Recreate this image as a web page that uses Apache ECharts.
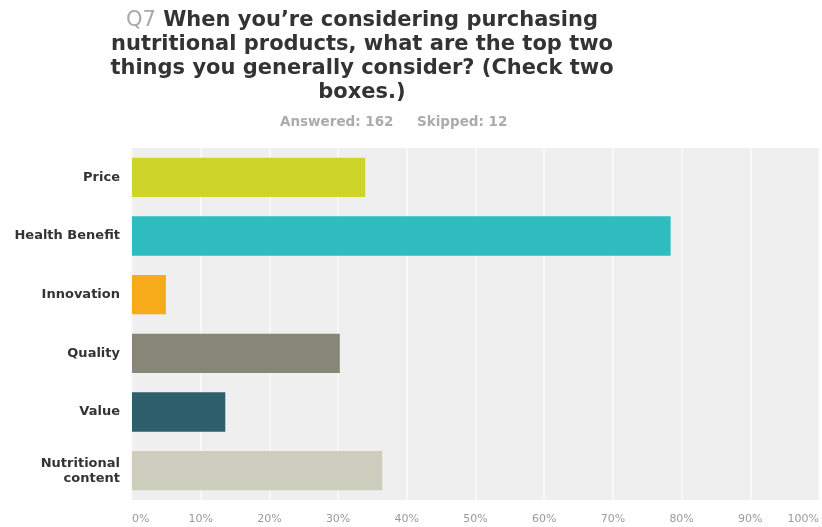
<!DOCTYPE html>
<html>
<head>
<meta charset="utf-8">
<script src="https://cdn.jsdelivr.net/npm/echarts@6/dist/echarts.min.js"></script>
<style>
  html, body { margin: 0; padding: 0; background: #ffffff; }
  #chart { width: 822px; height: 527px; }
</style>
</head>
<body>
<div id="chart"></div>
<script>
// Survey question results: share of respondents choosing each factor (percent)
const categories = ['Price', 'Health Benefit', 'Innovation', 'Quality', 'Value', 'Nutritional\ncontent'];
const values = [33.95, 78.40, 4.94, 30.25, 13.58, 36.42];
const barColors = ['#cfd42a', '#2fbcbe', '#f8ab1a', '#878778', '#2d5e6b', '#cccdbc'];
const tickValues = [0, 10, 20, 30, 40, 50, 60, 70, 80, 90, 100];

const titleLines = [
  '{q|Q7} When you\u2019re considering purchasing',
  'nutritional products, what are the top two',
  'things you generally consider? (Check two',
  'boxes.)'
];
const answered = 162;
const skipped = 12;

const FONT = 'DejaVu Sans, Verdana, sans-serif';

const chart = echarts.init(document.getElementById('chart'), null, { renderer: 'canvas' });

chart.setOption({
  animation: false,
  backgroundColor: '#ffffff',
  title: {
    text: titleLines.join('\n'),
    left: 357,
    top: 4,
    textAlign: 'center',
    textStyle: {
      fontFamily: FONT,
      fontSize: 21,
      fontWeight: 'bold',
      color: '#333333',
      lineHeight: 24,
      rich: {
        q: { fontFamily: FONT, fontSize: 21, fontWeight: 'normal', color: '#a9a9a9', lineHeight: 24 }
      }
    }
  },
  graphic: [{
    type: 'text',
    left: 280,
    top: 115,
    style: {
      text: 'Answered: ' + answered,
      fontFamily: FONT,
      fontSize: 13.5,
      fontWeight: 'bold',
      fill: '#ababab'
    }
  }, {
    type: 'text',
    left: 417,
    top: 115,
    style: {
      text: 'Skipped: ' + skipped,
      fontFamily: FONT,
      fontSize: 13.5,
      fontWeight: 'bold',
      fill: '#ababab'
    }
  }],
  grid: {
    left: 132,
    right: 3,
    top: 148,
    bottom: 27,
    show: true,
    backgroundColor: '#efefef',
    borderWidth: 0,
    containLabel: false
  },
  xAxis: {
    type: 'value',
    min: 0,
    max: 100,
    interval: 10,
    axisLine: { show: false },
    axisTick: { show: false },
    splitLine: { show: true, lineStyle: { color: '#f8f8f8', width: 2 } },
    axisLabel: {
      formatter: v => tickValues.includes(v) ? v + '%' : '',
      color: '#9a9a9a',
      fontFamily: FONT,
      fontSize: 11,
      margin: 14,
      alignMinLabel: 'left',
      alignMaxLabel: 'right'
    }
  },
  yAxis: {
    type: 'category',
    data: categories,
    inverse: true,
    axisLine: { show: false },
    axisTick: { show: false },
    splitLine: { show: false },
    axisLabel: {
      color: '#333333',
      fontFamily: FONT,
      fontSize: 13,
      fontWeight: 'bold',
      margin: 12,
      lineHeight: 15
    }
  },
  series: [{
    type: 'bar',
    data: values.map((v, i) => ({ value: v, itemStyle: { color: barColors[i] } })),
    barCategoryGap: '33%',
    itemStyle: { borderWidth: 0 }
  }]
});
</script>
</body>
</html>
